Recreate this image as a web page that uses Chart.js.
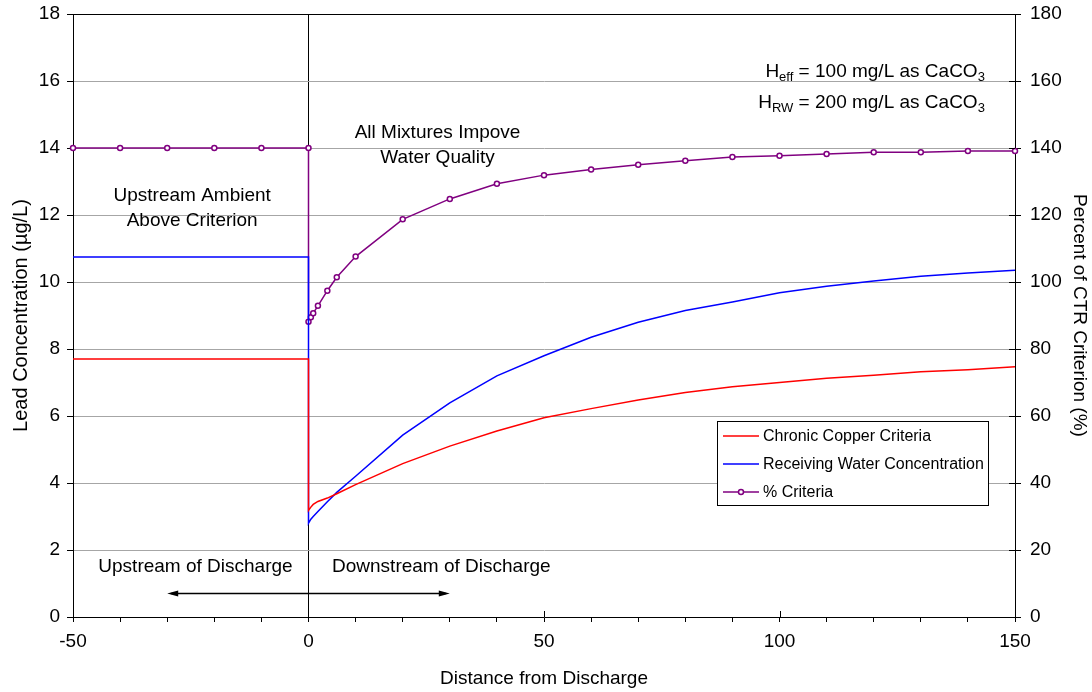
<!DOCTYPE html>
<html>
<head>
<meta charset="utf-8">
<script src="https://cdn.jsdelivr.net/npm/chart.js@4"></script>
<style>
  html, body { margin: 0; padding: 0; background: #fff; }
  #wrap { width: 1092px; height: 692px; }
</style>
</head>
<body>
<div id="wrap"><canvas id="leadChart" width="1092" height="692"></canvas></div>
<script>
// distance from discharge; 0 appears twice for the step at the outfall
const distance = [-50, -40, -30, -20, -10, 0, 0, 0.5, 1, 2, 4, 6, 10, 20, 30, 40, 50, 60, 70, 80, 90, 100, 110, 120, 130, 140, 150];
const chronicCriteria = [7.7, 7.7, 7.7, 7.7, 7.7, 7.7, 3.18, 3.28, 3.36, 3.45, 3.55, 3.68, 3.95, 4.58, 5.1, 5.55, 5.95, 6.22, 6.48, 6.7, 6.87, 7.0, 7.13, 7.22, 7.32, 7.38, 7.47];
const receivingWater = [10.75, 10.75, 10.75, 10.75, 10.75, 10.75, 2.8, 2.92, 3.0, 3.15, 3.44, 3.72, 4.2, 5.43, 6.39, 7.2, 7.8, 8.35, 8.8, 9.15, 9.4, 9.68, 9.87, 10.03, 10.17, 10.27, 10.35];
const pctCriteria = [140, 140, 140, 140, 140, 140, 88.1, 89.5, 90.7, 92.9, 97.4, 101.4, 107.6, 118.7, 124.8, 129.3, 131.9, 133.6, 135.0, 136.2, 137.3, 137.7, 138.2, 138.7, 138.7, 139.1, 139.1];

const seriesNames = ['Chronic Copper Criteria', 'Receiving Water Concentration', '% Criteria'];

// text notes placed in data units (left axis)
const notes = [
  { text: 'Upstream Ambient', x: -24.7, y: 12.57 },
  { text: 'Above Criterion', x: -24.7, y: 11.82 },
  { text: 'All Mixtures Impove', x: 27.4, y: 14.45 },
  { text: 'Water Quality', x: 27.4, y: 13.7 },
  { text: 'Upstream of Discharge', x: -24, y: 1.49 },
  { text: 'Downstream of Discharge', x: 28.2, y: 1.49 }
];
const hardness = [
  { parts: [['H', 0], ['eff', 1], [' = 100 mg/L as CaCO', 0], ['3', 1]], x: 143.6, y: 16.27 },
  { parts: [['H', 0], ['RW', 1], [' = 200 mg/L as CaCO', 0], ['3', 1]], x: 143.6, y: 15.34 }
];
const arrowSpan = [-30, 30, 0.72];

const FONT = "'Liberation Sans', Arial, sans-serif";

function pts(ys) {
  return distance.map((x, i) => ({ x: x, y: ys[i] }));
}

// keep the plot box fixed: no extra room for the end labels
function fitY(width) {
  return s => {
    s.width = width;
    s.paddingTop = 0;
    s.paddingBottom = 0;
  };
}

const extras = {
  id: 'extras',
  afterDraw(chart) {
    const { ctx, chartArea: a, scales } = chart;
    const xs = scales.x, ys = scales.y;
    ctx.save();
    // frame top edge
    ctx.strokeStyle = '#000';
    ctx.lineWidth = 1;
    ctx.beginPath();
    ctx.moveTo(a.left, a.top + 0.5);
    ctx.lineTo(a.right, a.top + 0.5);
    ctx.stroke();
    // major x ticks crossing the axis
    [50, 100].forEach(v => {
      const px = Math.round(xs.getPixelForValue(v)) + 0.5;
      ctx.beginPath();
      ctx.moveTo(px, a.bottom);
      ctx.lineTo(px, a.bottom - 6);
      ctx.stroke();
    });
    // right axis ticks cross inward
    scales.y1.ticks.forEach(t => {
      const py = Math.round(scales.y1.getPixelForValue(t.value)) + 0.5;
      ctx.beginPath();
      ctx.moveTo(a.right, py);
      ctx.lineTo(a.right - 6, py);
      ctx.stroke();
    });

    ctx.fillStyle = '#000';
    ctx.textBaseline = 'middle';
    ctx.textAlign = 'center';
    ctx.font = '19px ' + FONT;
    notes.forEach(n => {
      ctx.fillText(n.text, xs.getPixelForValue(n.x), ys.getPixelForValue(n.y));
    });

    // hardness lines with subscripts, right aligned
    ctx.textAlign = 'left';
    hardness.forEach(h => {
      let w = 0;
      h.parts.forEach(p => {
        ctx.font = (p[1] ? '13px ' : '19px ') + FONT;
        w += ctx.measureText(p[0]).width;
      });
      let cx = xs.getPixelForValue(h.x) - w;
      const cy = ys.getPixelForValue(h.y);
      h.parts.forEach(p => {
        ctx.font = (p[1] ? '13px ' : '19px ') + FONT;
        ctx.fillText(p[0], cx, cy + (p[1] ? 5 : 0));
        cx += ctx.measureText(p[0]).width;
      });
    });

    // double arrow
    const x1 = xs.getPixelForValue(arrowSpan[0]);
    const x2 = xs.getPixelForValue(arrowSpan[1]);
    const ay = Math.round(ys.getPixelForValue(arrowSpan[2])) + 0.5;
    ctx.lineWidth = 1.5;
    ctx.beginPath();
    ctx.moveTo(x1 + 4, ay);
    ctx.lineTo(x2 - 4, ay);
    ctx.stroke();
    ctx.beginPath();
    ctx.moveTo(x1, ay); ctx.lineTo(x1 + 11, ay - 3); ctx.lineTo(x1 + 11, ay + 3); ctx.closePath();
    ctx.moveTo(x2, ay); ctx.lineTo(x2 - 11, ay - 3); ctx.lineTo(x2 - 11, ay + 3); ctx.closePath();
    ctx.fill();

    // legend box
    const lx = 717, ly = 421, lw = 271, lh = 84;
    ctx.fillStyle = '#fff';
    ctx.fillRect(lx, ly, lw, lh);
    ctx.lineWidth = 1;
    ctx.strokeStyle = '#000';
    ctx.strokeRect(lx + 0.5, ly + 0.5, lw, lh);
    ctx.font = '16px ' + FONT;
    chart.data.datasets.forEach((ds, i) => {
      const ry = ly + 15 + i * 28;
      ctx.strokeStyle = ds.borderColor;
      ctx.lineWidth = 1.5;
      ctx.beginPath();
      ctx.moveTo(lx + 6, ry);
      ctx.lineTo(lx + 42, ry);
      ctx.stroke();
      if (ds.pointRadius > 0) {
        ctx.beginPath();
        ctx.arc(lx + 24, ry, 2.5, 0, Math.PI * 2);
        ctx.fillStyle = '#fff';
        ctx.fill();
        ctx.stroke();
      }
      ctx.fillStyle = '#000';
      ctx.fillText(ds.label, lx + 46, ry + 1);
    });
    ctx.restore();
  }
};

const ctx = document.getElementById('leadChart').getContext('2d');
const leadChart = new Chart(ctx, {
  type: 'line',
  data: {
    datasets: [
      {
        label: seriesNames[0],
        data: pts(chronicCriteria),
        borderColor: '#ff0000',
        borderWidth: 1.5,
        pointRadius: 0,
        yAxisID: 'y'
      },
      {
        label: seriesNames[1],
        data: pts(receivingWater),
        borderColor: '#0000ff',
        borderWidth: 1.5,
        pointRadius: 0,
        yAxisID: 'y'
      },
      {
        label: seriesNames[2],
        data: pts(pctCriteria),
        borderColor: '#800080',
        borderWidth: 1.5,
        pointRadius: 2.5,
        pointBorderWidth: 1.5,
        pointBackgroundColor: '#ffffff',
        pointBorderColor: '#800080',
        yAxisID: 'y1',
        clip: false
      }
    ]
  },
  options: {
    responsive: false,
    animation: false,
    layout: { padding: { top: 14, left: 0, right: 0, bottom: 0 } },
    plugins: {
      legend: { display: false },
      tooltip: { enabled: false }
    },
    scales: {
      x: {
        type: 'linear',
        min: -50,
        max: 150,
        afterFit: s => { s.height = 75; s.paddingLeft = 0; s.paddingRight = 0; },
        ticks: {
          stepSize: 10,
          autoSkip: false,
          maxRotation: 0,
          padding: 8,
          color: '#000',
          font: { family: FONT, size: 19 },
          callback: v => (v % 50 === 0 ? v : '')
        },
        grid: {
          color: c => (c.tick && c.tick.value === 0 ? '#000' : 'rgba(0,0,0,0)'),
          tickColor: '#000',
          tickLength: 5,
          lineWidth: 1
        },
        border: { color: '#000', width: 1 },
        title: {
          display: true,
          text: 'Distance from Discharge',
          color: '#000',
          font: { family: FONT, size: 19 },
          padding: { top: 0, bottom: 2 }
        }
      },
      y: {
        position: 'left',
        min: 0,
        max: 18,
        afterFit: fitY(73),
        ticks: {
          stepSize: 2,
          padding: 7,
          color: '#000',
          font: { family: FONT, size: 19 }
        },
        grid: {
          color: '#a6a6a6',
          tickColor: '#000',
          tickLength: 6,
          lineWidth: 1
        },
        border: { color: '#000', width: 1 },
        title: {
          display: true,
          text: 'Lead Concentration (µg/L)',
          color: '#000',
          font: { family: FONT, size: 20 },
          padding: { top: 9, bottom: 0 }
        }
      },
      y1: {
        position: 'right',
        min: 0,
        max: 180,
        afterFit: fitY(77),
        ticks: {
          stepSize: 20,
          padding: 9,
          color: '#000',
          font: { family: FONT, size: 19 }
        },
        grid: {
          drawOnChartArea: false,
          tickColor: '#000',
          tickLength: 6
        },
        border: { color: '#000', width: 1 },
        title: {
          display: true,
          text: 'Percent of CTR Criterion (%)',
          color: '#000',
          font: { family: FONT, size: 19 },
          padding: { top: 1, bottom: 0 }
        }
      }
    }
  },
  plugins: [extras]
});
</script>
</body>
</html>
